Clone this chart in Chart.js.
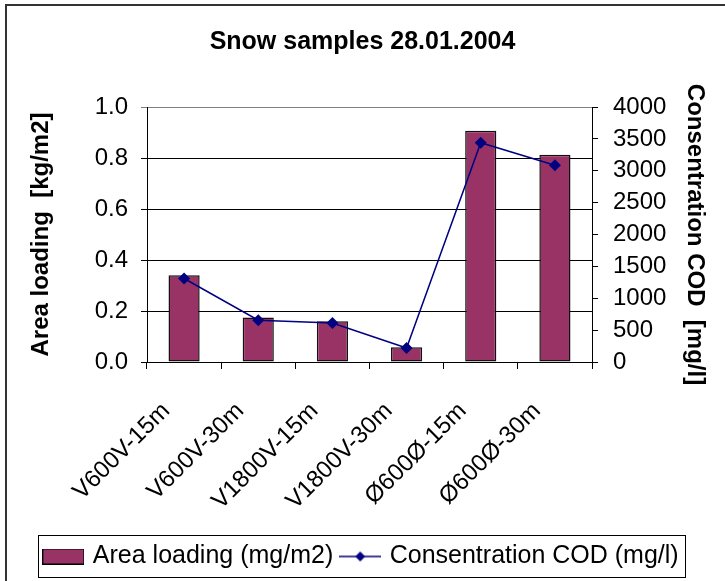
<!DOCTYPE html>
<html>
<head>
<meta charset="utf-8">
<script src="https://cdn.jsdelivr.net/npm/chart.js@4"></script>
<style>
  body { margin: 0; background: #fff; }
  #wrap { width: 725px; height: 581px; }
</style>
</head>
<body>
<div id="wrap"><canvas id="myChart" width="725" height="581"></canvas></div>
<script>
// Données
const categories = ['V600V-15m', 'V600V-30m', 'V1800V-15m', 'V1800V-30m', 'Ø600Ø-15m', 'Ø600Ø-30m'];
const areaLoading = [0.34, 0.175, 0.16, 0.058, 0.907, 0.813];   // kg/m2
const codConc = [1310, 655, 610, 220, 3440, 3085];              // mg/l
const leftTicks = [0, 0.2, 0.4, 0.6, 0.8, 1.0];
const rightTicks = [0, 500, 1000, 1500, 2000, 2500, 3000, 3500, 4000];

Chart.defaults.font.family = "'Liberation Sans', Arial, sans-serif";
Chart.defaults.color = '#000';

// petites images pour la légende
function barSwatch() {
    const c = document.createElement('canvas');
    c.width = 42; c.height = 16;
    const g = c.getContext('2d');
    g.fillStyle = '#993366';
    g.fillRect(0, 0, 42, 16);
    g.strokeStyle = '#000';
    g.lineWidth = 1;
    g.strokeRect(0.5, 0.5, 41, 15);
    return c;
}
function lineSwatch() {
    const c = document.createElement('canvas');
    c.width = 42; c.height = 12;
    const g = c.getContext('2d');
    g.strokeStyle = '#000080';
    g.lineWidth = 1.5;
    g.beginPath(); g.moveTo(0, 6); g.lineTo(42, 6); g.stroke();
    g.fillStyle = '#000080';
    g.beginPath(); g.moveTo(21, 1); g.lineTo(26, 6); g.lineTo(21, 11); g.lineTo(16, 6); g.closePath(); g.fill();
    return c;
}

// cadre extérieur + cadre de la légende
const framePlugin = {
    id: 'frame',
    beforeDraw(chart) {
        const ctx = chart.ctx;
        ctx.save();
        ctx.fillStyle = '#fff';
        ctx.fillRect(0, 0, chart.width, chart.height);
        ctx.restore();
    },
    afterDraw(chart) {
        const ctx = chart.ctx;
        ctx.save();
        ctx.fillStyle = '#333';
        ctx.fillRect(5, 4, 2, chart.height - 4);
        ctx.fillRect(5, 4, chart.width - 5, 2);
        const hb = chart.legend.legendHitBoxes;
        if (hb && hb.length) {
            const first = hb[0], last = hb[hb.length - 1];
            const x1 = Math.round(first.left - 8) + 0.5;
            const x2 = Math.round(last.left + last.width + 6) + 0.5;
            const y1 = Math.round(first.top - 9) + 0.5;
            const y2 = Math.round(first.top + first.height + 8) + 0.5;
            ctx.strokeStyle = '#000';
            ctx.lineWidth = 1;
            ctx.strokeRect(x1, y1, x2 - x1, y2 - y1);
        }
        ctx.restore();
    }
};

const ctx = document.getElementById('myChart').getContext('2d');
const chart = new Chart(ctx, {
    data: {
        labels: categories,
        datasets: [
            {
                type: 'bar',
                label: 'Area loading (mg/m2)',
                data: areaLoading,
                yAxisID: 'y',
                backgroundColor: '#993366',
                borderColor: '#111',
                borderWidth: 1.5,
                borderSkipped: false,
                categoryPercentage: 1,
                barPercentage: 0.42,
                order: 1
            },
            {
                type: 'line',
                label: 'Consentration COD (mg/l)',
                data: codConc,
                yAxisID: 'y1',
                borderColor: '#000080',
                backgroundColor: '#000080',
                borderWidth: 1.5,
                pointStyle: 'rectRot',
                pointRadius: 6,
                pointBorderWidth: 0,
                tension: 0,
                order: 0
            }
        ]
    },
    options: {
        responsive: false,
        animation: false,
        layout: { padding: { left: 0, right: 0, top: 0, bottom: 2 } },
        scales: {
            x: {
                offset: true,
                grid: { offset: true, drawOnChartArea: false, color: '#000', tickLength: 7 },
                border: { color: '#000', width: 1 },
                ticks: {
                    font: { size: 24 },
                    maxRotation: 45,
                    minRotation: 45,
                    autoSkip: false,
                    padding: 28,
                    labelOffset: -18
                },
                afterFit(scale) { scale.height = 172; }
            },
            y: {
                position: 'left',
                min: 0,
                max: 1,
                afterBuildTicks(scale) { scale.ticks = leftTicks.map(v => ({ value: v })); },
                ticks: {
                    font: { size: 24 },
                    autoSkip: false,
                    padding: 13,
                    callback: v => v.toFixed(1)
                },
                grid: {
                    color: c => (c.tick && c.tick.value === 1 ? '#808080' : '#000'),
                    tickLength: 6
                },
                border: { color: '#000', width: 1 },
                title: {
                    display: true,
                    text: 'Area loading  [kg/m2]',
                    font: { size: 24, weight: 'bold' },
                    padding: { top: 27, bottom: 0 }
                },
                afterFit(scale) { scale.width = 147; }
            },
            y1: {
                position: 'right',
                min: 0,
                max: 4000,
                afterBuildTicks(scale) { scale.ticks = rightTicks.map(v => ({ value: v })); },
                ticks: { font: { size: 24 }, autoSkip: false, padding: 15, callback: v => String(v) },
                grid: { drawOnChartArea: false, color: '#000', tickLength: 6 },
                border: { color: '#000', width: 1 },
                title: {
                    display: true,
                    text: 'Consentration COD  [mg/l]',
                    font: { size: 24, weight: 'bold' },
                    padding: { top: 16, bottom: 0 }
                },
                afterFit(scale) { scale.width = 133; }
            }
        },
        plugins: {
            title: {
                display: true,
                text: 'Snow samples 28.01.2004',
                font: { size: 25, weight: 'bold' },
                color: '#000',
                padding: { top: 27, bottom: 50 }
            },
            legend: {
                position: 'bottom',
                labels: {
                    font: { size: 25 },
                    color: '#000',
                    usePointStyle: true,
                    pointStyleWidth: 34,
                    padding: 10,
                    generateLabels() {
                        return [
                            { text: 'Area loading (mg/m2)', pointStyle: barSwatch(), datasetIndex: 0, fillStyle: '#993366', strokeStyle: '#000', lineWidth: 0 },
                            { text: 'Consentration COD (mg/l)', pointStyle: lineSwatch(), datasetIndex: 1, fillStyle: '#000080', strokeStyle: '#000080', lineWidth: 0 }
                        ];
                    }
                }
            },
            tooltip: { enabled: false }
        }
    },
    plugins: [framePlugin]
});
</script>
</body>
</html>
